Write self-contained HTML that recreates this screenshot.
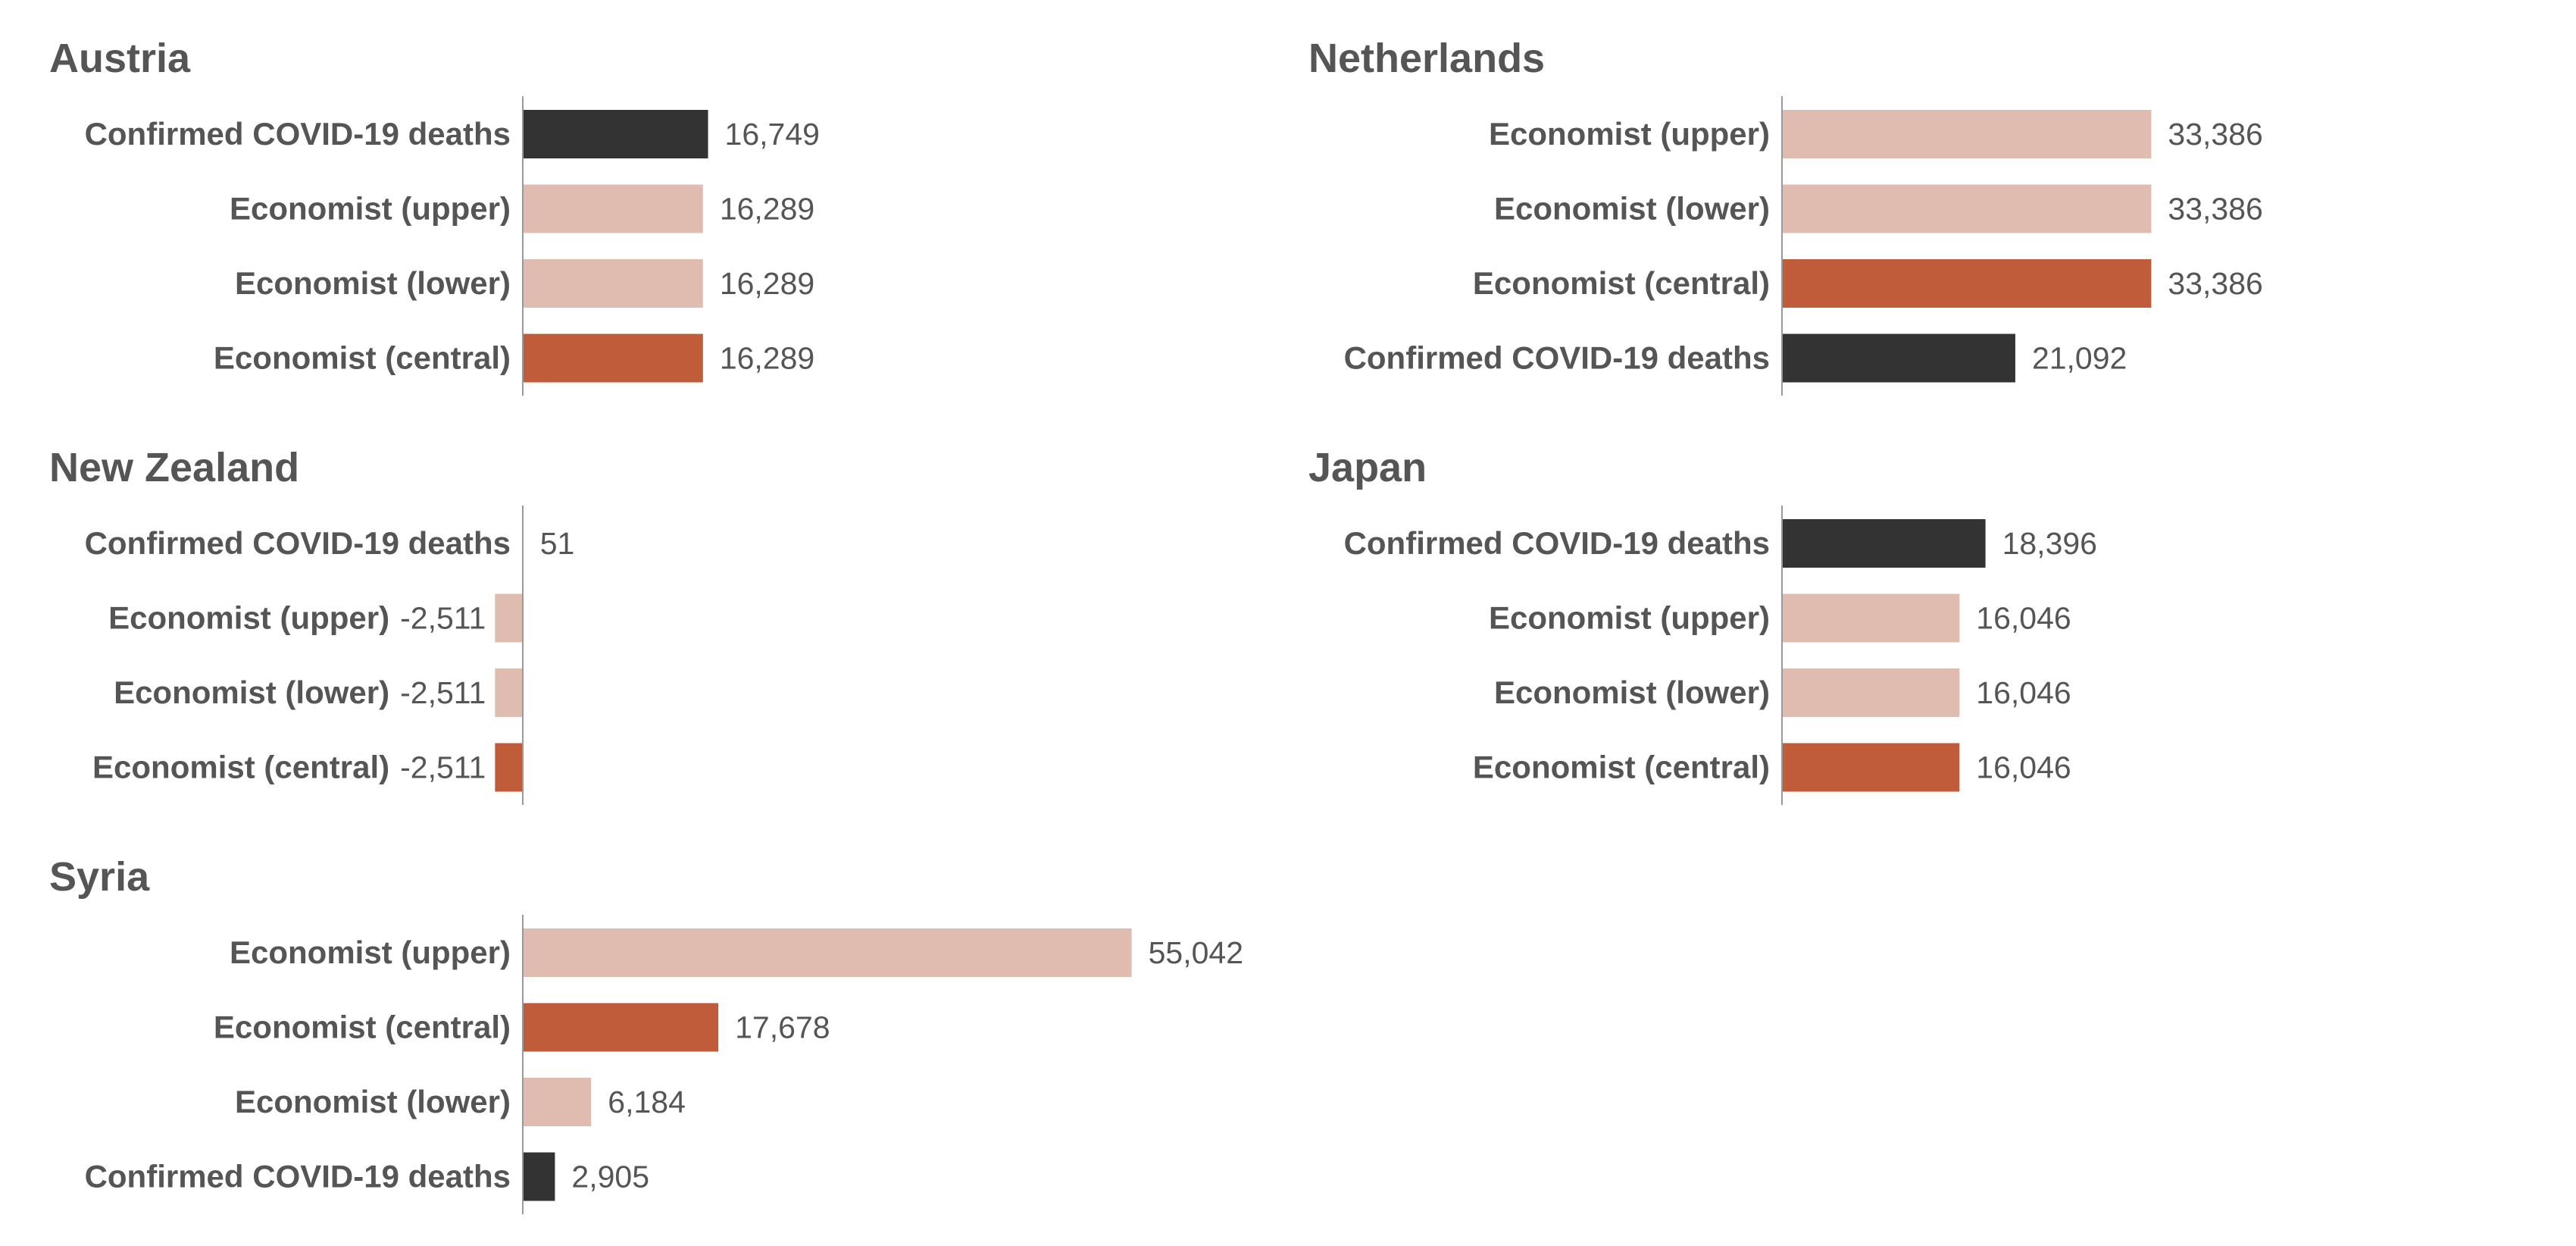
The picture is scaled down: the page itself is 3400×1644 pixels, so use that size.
<!DOCTYPE html>
<html><head><meta charset="utf-8"><style>
html,body{margin:0;padding:0;background:#fff;}
svg{display:block;font-family:"Liberation Sans",sans-serif;}
</style></head><body>
<svg id="chart" width="3400" height="1644" viewBox="0 0 3400 1644" xmlns="http://www.w3.org/2000/svg"></svg>
<script>
const countries = ["Austria","Netherlands","New Zealand","Japan","Syria"];
const labelsAustria = ["Confirmed COVID-19 deaths","Economist (upper)","Economist (lower)","Economist (central)"];
const valuesAustria = [16749,16289,16289,16289];
const labelsNetherlands = ["Economist (upper)","Economist (lower)","Economist (central)","Confirmed COVID-19 deaths"];
const valuesNetherlands = [33386,33386,33386,21092];
const labelsNewZealand = ["Confirmed COVID-19 deaths","Economist (upper)","Economist (lower)","Economist (central)"];
const valuesNewZealand = [51,-2511,-2511,-2511];
const labelsJapan = ["Confirmed COVID-19 deaths","Economist (upper)","Economist (lower)","Economist (central)"];
const valuesJapan = [18396,16046,16046,16046];
const labelsSyria = ["Economist (upper)","Economist (central)","Economist (lower)","Confirmed COVID-19 deaths"];
const valuesSyria = [55042,17678,6184,2905];

const panels = [
 {name:countries[0], labels:labelsAustria, values:valuesAustria, col:0,row:0},
 {name:countries[1], labels:labelsNetherlands, values:valuesNetherlands, col:1,row:0},
 {name:countries[2], labels:labelsNewZealand, values:valuesNewZealand, col:0,row:1},
 {name:countries[3], labels:labelsJapan, values:valuesJapan, col:1,row:1},
 {name:countries[4], labels:labelsSyria, values:valuesSyria, col:0,row:2}
];
const NS="http://www.w3.org/2000/svg";
const svg=document.getElementById('chart');
const K=0.0146;
function xScale(v){return v*K;}
function colorFor(l){
  if(l.indexOf('Confirmed')===0) return '#333333';
  if(l.indexOf('central')>=0) return '#c05c3a';
  return '#e0bcb0';
}
function mk(tag,attrs,parent){const e=document.createElementNS(NS,tag);for(const k in attrs)e.setAttribute(k,attrs[k]);parent.appendChild(e);return e;}
panels.forEach(p=>{
  const ox=p.col*1662, oy=p.row*540;
  const g=mk('g',{transform:`translate(${ox},${oy})`},svg);
  
  
  const t=mk('text',{x:65,y:95,'font-size':54,'font-weight':'bold',fill:'#555555'},g);
  t.textContent=p.name;
  
  
  const ax=690;
  p.labels.forEach((l,i)=>{
    const cy=177+i*98.5;
    const v=p.values[i];
    const w=xScale(v);
    const x0=Math.min(ax,ax+w);
    const r=mk('rect',{x:x0,y:cy-32,width:Math.abs(w),height:64,fill:colorFor(l)},g);
    
    
    const vt=mk('text',{x:0,y:cy+14,'font-size':41,fill:'#555555'},g);
    vt.textContent=v.toLocaleString('en-US');
    
    
    let labX;
    if(v<0){
      vt.setAttribute('x',ax+w-12);vt.setAttribute('text-anchor','end');
      labX=ax+w-12-vt.getComputedTextLength()-14;
    } else {
      vt.setAttribute('x',ax+w+22);
      labX=ax-16;
    }
    const lt=mk('text',{x:labX,y:cy+14,'font-size':42,'font-weight':'bold',fill:'#555555','text-anchor':'end'},g);
    lt.textContent=l;
    
    
  });
  const line=mk('line',{x1:ax,x2:ax,y1:127,y2:522,stroke:'#999999','stroke-width':2},g);
  
  
});
</script>
</body></html>
